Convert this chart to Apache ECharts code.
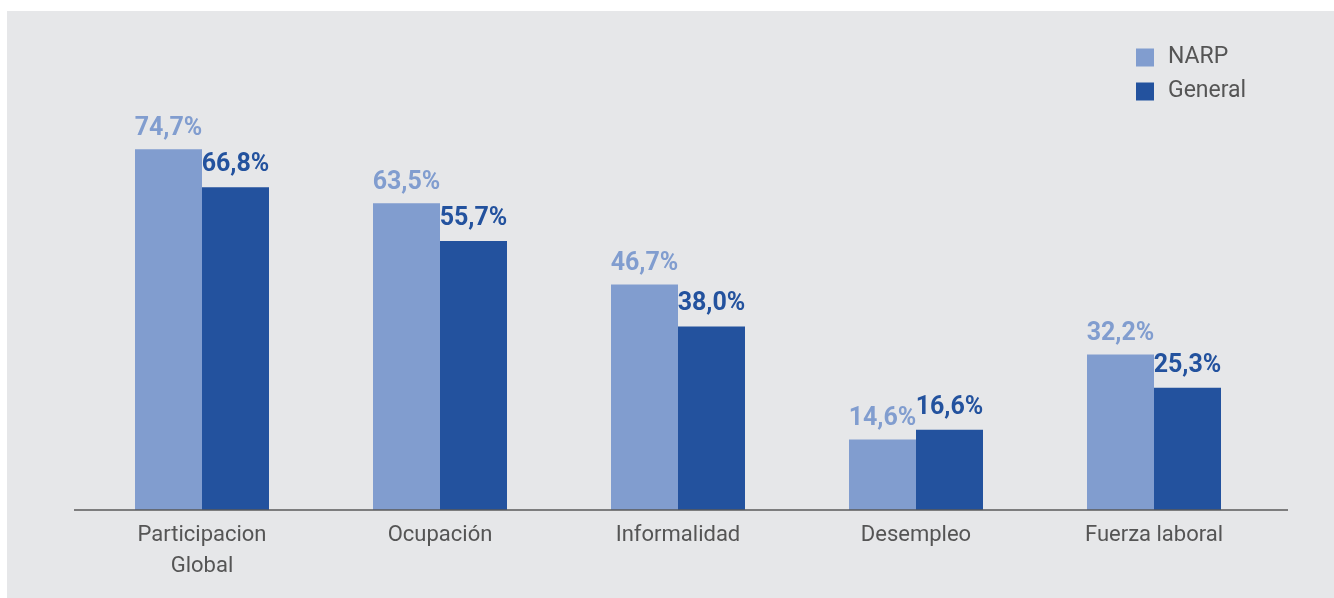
<!DOCTYPE html>
<html>
<head>
<meta charset="utf-8">
<script src="https://cdn.jsdelivr.net/npm/echarts@6/dist/echarts.min.js"></script>
<style>
html,body{margin:0;padding:0;background:#ffffff;width:1334px;height:598px;overflow:hidden;}
#panel{position:absolute;left:7px;top:11px;width:1327px;height:587px;background:#e6e7e9;}
#chart{width:1327px;height:587px;}
</style>
</head>
<body>
<div id="panel"><div id="chart"></div></div>
<script>
const categories = ['Participacion\nGlobal', 'Ocupación', 'Informalidad', 'Desempleo', 'Fuerza laboral'];
const narpValues = [74.7, 63.5, 46.7, 14.6, 32.2];
const generalValues = [66.8, 55.7, 38.0, 16.6, 25.3];
const seriesNames = ['NARP', 'General'];

const lightBlue = '#819dcf';
const darkBlue = '#23529e';
const fmt = p => p.value.toFixed(1).replace('.', ',') + '%';

const chart = echarts.init(document.getElementById('chart'), null, {renderer: 'canvas'});
chart.setOption({
  backgroundColor: '#e6e7e9',
  animation: false,
  legend: {
    orient: 'vertical',
    left: 1129,
    top: 35,
    padding: 0,
    itemWidth: 18,
    itemHeight: 18,
    itemGap: 11,
    icon: 'rect',
    textStyle: {fontFamily: 'Roboto', fontSize: 23, color: '#555555', lineHeight: 18, padding: [3, 0, 0, 9]},
    data: seriesNames
  },
  grid: {left: 76, right: 61, top: 16, bottom: 88, containLabel: false},
  xAxis: {
    type: 'category',
    data: categories,
    axisLine: {show: false},
    axisTick: {show: false},
    axisLabel: {fontFamily: 'Roboto', fontSize: 22, color: '#555555', lineHeight: 31, margin: 10, interval: 0}
  },
  yAxis: {
    type: 'value',
    min: 0,
    max: 100,
    show: false,
    splitLine: {show: false}
  },
  graphic: [{
    type: 'line',
    shape: {x1: 67, y1: 499, x2: 1281, y2: 499},
    style: {stroke: '#5a5a5a', lineWidth: 1.5},
    z: 10
  }],
  series: [
    {
      name: seriesNames[0],
      type: 'bar',
      data: narpValues,
      barWidth: 67,
      barGap: '0%',
      itemStyle: {color: lightBlue},
      label: {show: true, position: 'top', distance: 8, formatter: fmt,
        fontFamily: 'Roboto', fontWeight: 'bold', fontSize: 25, color: lightBlue}
    },
    {
      name: seriesNames[1],
      type: 'bar',
      data: generalValues,
      barWidth: 67,
      barGap: '0%',
      itemStyle: {color: darkBlue},
      label: {show: true, position: 'top', distance: 10, formatter: fmt,
        fontFamily: 'Roboto', fontWeight: 'bold', fontSize: 25, color: darkBlue}
    }
  ]
});
</script>
</body>
</html>
